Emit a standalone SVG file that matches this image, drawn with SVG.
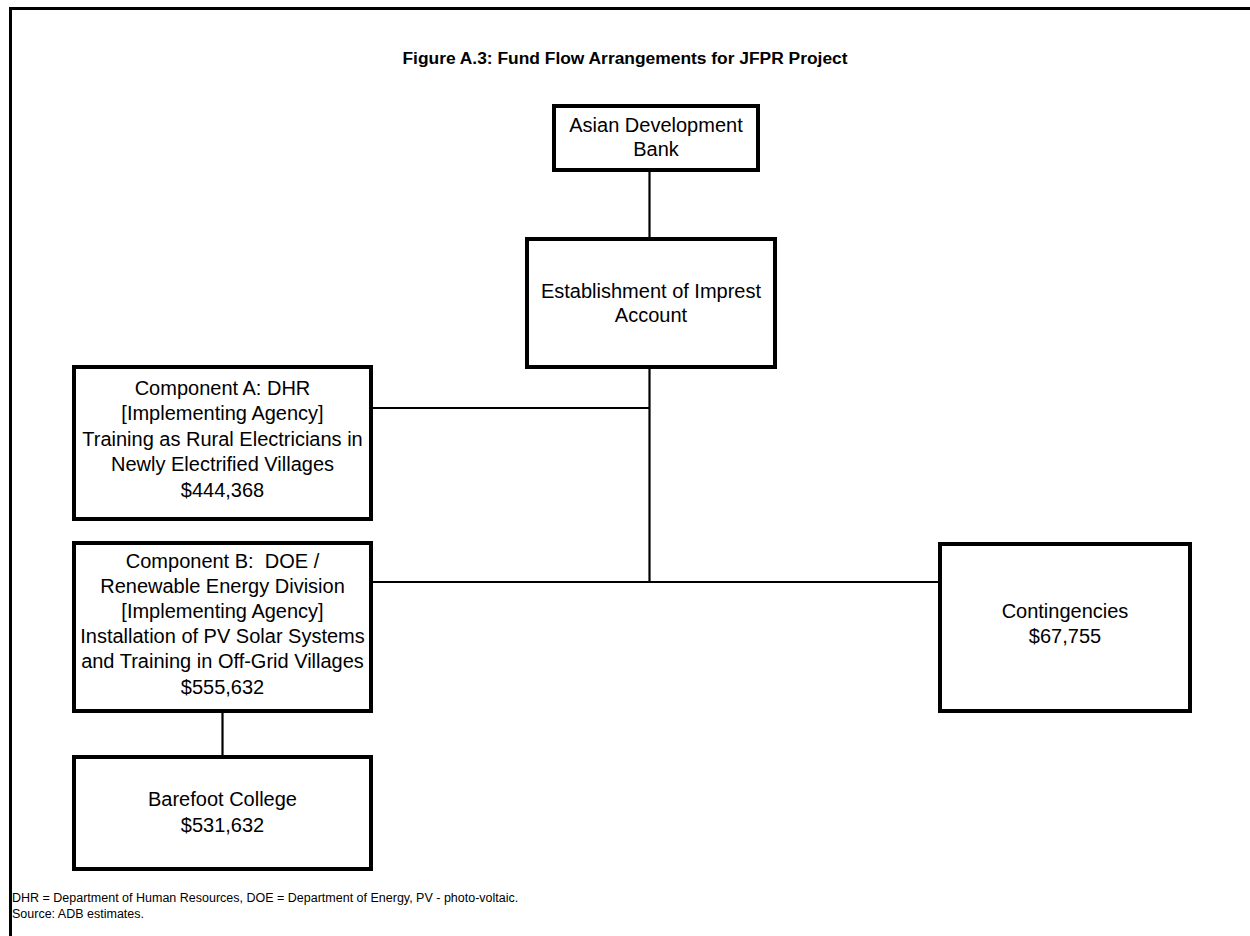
<svg xmlns="http://www.w3.org/2000/svg" width="1250" height="936" viewBox="0 0 1250 936">
<style>
  .box { fill: #ffffff; stroke: #000000; stroke-width: 4; }
  .conn { fill: none; stroke: #000000; stroke-width: 2.2; }
  .frame { fill: none; stroke: #000000; stroke-width: 3; }
  .t { font-family: "Liberation Sans", Arial, sans-serif; font-size: 20px; fill: #000000; text-anchor: middle; white-space: pre; }
  .title { font-family: "Liberation Sans", Arial, sans-serif; font-size: 17.4px; font-weight: bold; fill: #000000; text-anchor: middle; }
  .note { font-family: "Liberation Sans", Arial, sans-serif; font-size: 12.5px; fill: #000000; }
</style>
<rect x="0" y="0" width="1250" height="936" fill="#ffffff"/>
<path class="frame" d="M10.5,936 V8.5 H1250"/>
<text class="title" x="625" y="64">Figure A.3: Fund Flow Arrangements for JFPR Project</text>

<g id="connectors">
  <line class="conn" x1="649.5" y1="170" x2="649.5" y2="239"/>
  <line class="conn" x1="649.5" y1="367" x2="649.5" y2="582"/>
  <line class="conn" x1="371" y1="408" x2="649.5" y2="408"/>
  <line class="conn" x1="371" y1="582" x2="940" y2="582"/>
  <line class="conn" x1="222.5" y1="711" x2="222.5" y2="757"/>
</g>

<g id="adb">
  <rect class="box" x="554" y="106" width="204" height="64"/>
  <text class="t" x="656" y="132">Asian Development</text>
  <text class="t" x="656" y="156">Bank</text>
</g>

<g id="imprest">
  <rect class="box" x="527" y="239" width="248" height="128"/>
  <text class="t" x="651" y="298">Establishment of Imprest</text>
  <text class="t" x="651" y="322">Account</text>
</g>

<g id="componentA">
  <rect class="box" x="74" y="367" width="297" height="152"/>
  <text class="t" x="222.5" y="395">Component A: DHR</text>
  <text class="t" x="222.5" y="420">[Implementing Agency]</text>
  <text class="t" x="222.5" y="446">Training as Rural Electricians in</text>
  <text class="t" x="222.5" y="471">Newly Electrified Villages</text>
  <text class="t" x="222.5" y="497">$444,368</text>
</g>

<g id="componentB">
  <rect class="box" x="74" y="543" width="297" height="168"/>
  <text class="t" x="222.5" y="568" xml:space="preserve">Component B:  DOE /</text>
  <text class="t" x="222.5" y="593">Renewable Energy Division</text>
  <text class="t" x="222.5" y="618">[Implementing Agency]</text>
  <text class="t" x="222.5" y="643">Installation of PV Solar Systems</text>
  <text class="t" x="222.5" y="668">and Training in Off-Grid Villages</text>
  <text class="t" x="222.5" y="694">$555,632</text>
</g>

<g id="barefoot">
  <rect class="box" x="74" y="757" width="297" height="112"/>
  <text class="t" x="222.5" y="806">Barefoot College</text>
  <text class="t" x="222.5" y="832">$531,632</text>
</g>

<g id="contingencies">
  <rect class="box" x="940" y="544" width="250" height="167"/>
  <text class="t" x="1065" y="618">Contingencies</text>
  <text class="t" x="1065" y="643">$67,755</text>
</g>

<text class="note" x="12" y="902">DHR = Department of Human Resources, DOE = Department of Energy, PV - photo-voltaic.</text>
<text class="note" x="12" y="918">Source: ADB estimates.</text>
</svg>
